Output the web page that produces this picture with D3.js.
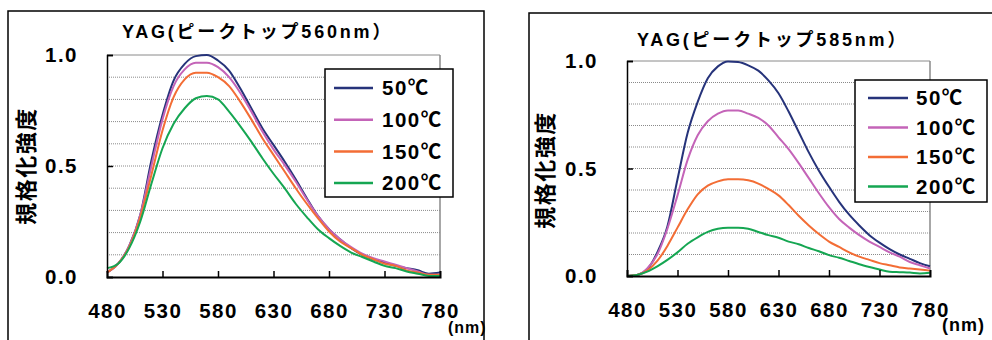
<!DOCTYPE html>
<html>
<head>
<meta charset="utf-8">
<script src="https://cdn.jsdelivr.net/npm/d3@7"></script>
<style>
  body { margin: 0; background: #fff; }
  svg text { font-family: "Liberation Sans", Arial, "Noto Sans CJK JP", sans-serif; font-weight: bold; fill: #000; }
</style>
</head>
<body>
<script>
// Data
const wavelengths = [480, 490, 500, 510, 520, 530, 540, 550, 560, 570, 580, 590, 600, 610, 620, 630,
                     640, 650, 660, 670, 680, 690, 700, 710, 720, 730, 740, 750, 760, 770, 780];
const seriesNames = ["50℃", "100℃", "150℃", "200℃"];
const xTicks = [480, 530, 580, 630, 680, 730, 780];
const yTicks = [0, 0.5, 1.0];
const yGrid = [0.1, 0.2, 0.3, 0.4, 0.5, 0.6, 0.7, 0.8, 0.9, 1.0];

// YAG peak 560nm
const left50  = [.02, .06, .14, .28, .525, .73, .885, .96, .995, 1.0, .975, .93, .85, .76, .67, .595, .52, .44, .355, .275, .215, .17, .13, .10, .08, .065, .05, .04, .03, .015, .02];
const left100 = [.02, .06, .14, .28, .50, .71, .86, .935, .965, .965, .945, .90, .83, .745, .655, .575, .505, .43, .35, .275, .215, .17, .135, .105, .085, .07, .055, .04, .025, .01, .01];
const left150 = [.02, .06, .135, .27, .46, .66, .81, .89, .92, .92, .90, .86, .79, .71, .625, .55, .475, .40, .33, .265, .205, .16, .13, .10, .08, .06, .05, .03, .02, .01, .01];
const left200 = [.04, .06, .13, .25, .42, .58, .69, .76, .805, .815, .80, .745, .68, .61, .535, .465, .40, .33, .27, .215, .175, .14, .11, .09, .07, .05, .04, .025, .015, .005, .005];

// YAG peak 585nm
const right50  = [0, .005, .03, .11, .23, .45, .665, .81, .92, .975, .998, .995, .98, .955, .91, .85, .765, .67, .575, .49, .415, .345, .285, .235, .19, .155, .125, .10, .08, .06, .045];
const right100 = [0, .005, .035, .10, .22, .375, .54, .655, .72, .755, .77, .77, .755, .735, .70, .645, .59, .525, .455, .385, .32, .265, .225, .19, .16, .135, .11, .09, .065, .05, .035];
const right150 = [0, .005, .025, .07, .14, .225, .31, .38, .42, .44, .45, .45, .445, .43, .405, .375, .33, .28, .235, .195, .16, .135, .11, .09, .075, .06, .05, .04, .035, .03, .025];
const right200 = [0, .005, .02, .045, .075, .11, .15, .18, .205, .22, .225, .225, .22, .205, .19, .178, .16, .148, .13, .115, .097, .085, .07, .055, .042, .03, .02, .018, .016, .012, .015];

const colors = ["#26337a", "#c464b8", "#f36d35", "#15a652"];

const svg = d3.select("body").append("svg")
  .attr("width", 992)
  .attr("height", 340);

function drawPanel(p) {
  // outer frame
  svg.append("rect")
    .attr("x", p.frame[0]).attr("y", p.frame[1])
    .attr("width", p.frame[2]).attr("height", p.frame[3])
    .attr("fill", "none").attr("stroke", "#000").attr("stroke-width", 1.5);

  const x = d3.scaleLinear().domain([480, 780]).range([p.left, p.right]);
  const y = d3.scaleLinear().domain([0, 1]).range([p.bottom, p.top]);

  const g = svg.append("g");

  // dotted grid
  g.selectAll("line.grid").data(yGrid).enter().append("line")
    .attr("x1", p.left).attr("x2", p.right)
    .attr("y1", d => y(d)).attr("y2", d => y(d))
    .attr("stroke", "#8a8a8a").attr("stroke-width", 1)
    .attr("stroke-dasharray", d => d === 1.0 ? null : "1,1");

  // right border (gray)
  g.append("line")
    .attr("x1", p.right).attr("x2", p.right)
    .attr("y1", p.top).attr("y2", p.bottom)
    .attr("stroke", "#8a8a8a").attr("stroke-width", 1.5);

  // curves
  const line = d3.line()
    .x((d, i) => x(wavelengths[i]))
    .y(d => y(d))
    .curve(d3.curveMonotoneX);

  g.selectAll("path.curve").data(p.series).enter().append("path")
    .attr("d", line)
    .attr("fill", "none")
    .attr("stroke", (d, i) => colors[i])
    .attr("stroke-width", 2);

  // axes
  const xAxis = g.append("g")
    .attr("transform", `translate(0,${p.bottom})`)
    .call(d3.axisBottom(x).tickValues(xTicks).tickSize(-6).tickPadding(26).tickFormat(d3.format("d")));
  xAxis.select(".domain").attr("stroke", "#000").attr("stroke-width", 2);
  xAxis.selectAll(".tick line").attr("stroke", "#000").attr("stroke-width", 1.5)
    .filter(d => d === 480 || d === 780).remove();
  xAxis.selectAll("text").attr("font-size", 20.5).attr("letter-spacing", 1.5);

  const yAxis = g.append("g")
    .attr("transform", `translate(${p.left},0)`)
    .call(d3.axisLeft(y).tickValues(yTicks).tickSize(-6).tickPadding(29).tickFormat(d3.format(".1f")));
  yAxis.select(".domain").attr("stroke", "#000").attr("stroke-width", 1.5);
  yAxis.selectAll(".tick line").attr("stroke", "#000").attr("stroke-width", 1.5);
  yAxis.selectAll("text").attr("font-size", 20.5).attr("letter-spacing", 1.5);

  // title
  svg.append("text")
    .attr("x", p.titleX).attr("y", p.titleY)
    .attr("font-size", 18).attr("letter-spacing", 2.8)
    .text(p.title);

  // y axis title
  svg.append("text")
    .attr("transform", `translate(${p.yTitleX},${p.yTitleY}) rotate(-90)`)
    .attr("text-anchor", "middle")
    .attr("font-size", 22).attr("letter-spacing", 1.5)
    .text("規格化強度");

  // unit
  svg.append("text")
    .attr("x", p.unitX).attr("y", p.unitY)
    .attr("font-size", p.unitSize).attr("letter-spacing", 1)
    .text("(nm)");

  // legend
  const lg = svg.append("g");
  lg.append("rect")
    .attr("x", p.legend.x).attr("y", p.legend.y)
    .attr("width", p.legend.w).attr("height", p.legend.h)
    .attr("fill", "#fff").attr("stroke", "#000").attr("stroke-width", 1.5);
  const rows = lg.selectAll("g.row").data(seriesNames).enter().append("g")
    .attr("transform", (d, i) => `translate(0,${p.legend.rowY + i * p.legend.step})`);
  rows.append("line")
    .attr("x1", p.legend.lineX1).attr("x2", p.legend.lineX2)
    .attr("stroke", (d, i) => colors[i]).attr("stroke-width", 2.5);
  rows.append("text")
    .attr("x", p.legend.textX).attr("dy", "0.36em")
    .attr("font-size", 20.5).attr("letter-spacing", 1.5)
    .text(d => d);
}

drawPanel({
  frame: [8, 11, 476, 340],
  left: 107, right: 440, top: 55, bottom: 277,
  series: [left50, left100, left150, left200],
  title: "YAG(ピークトップ560nm）",
  titleX: 122, titleY: 38,
  yTitleX: 34, yTitleY: 166,
  unitX: 448, unitY: 333, unitSize: 16,
  legend: { x: 325, y: 69, w: 128, h: 128, rowY: 88, step: 31.7, lineX1: 334, lineX2: 373, textX: 382 }
});

drawPanel({
  frame: [529, 13, 470, 340],
  left: 627, right: 930, top: 61, bottom: 276,
  series: [right50, right100, right150, right200],
  title: "YAG(ピークトップ585nm）",
  titleX: 637, titleY: 46,
  yTitleX: 553, yTitleY: 170,
  unitX: 942, unitY: 331, unitSize: 18,
  legend: { x: 855, y: 80, w: 132, h: 122, rowY: 98, step: 29.5, lineX1: 868, lineX2: 908, textX: 916 }
});
</script>
</body>
</html>
